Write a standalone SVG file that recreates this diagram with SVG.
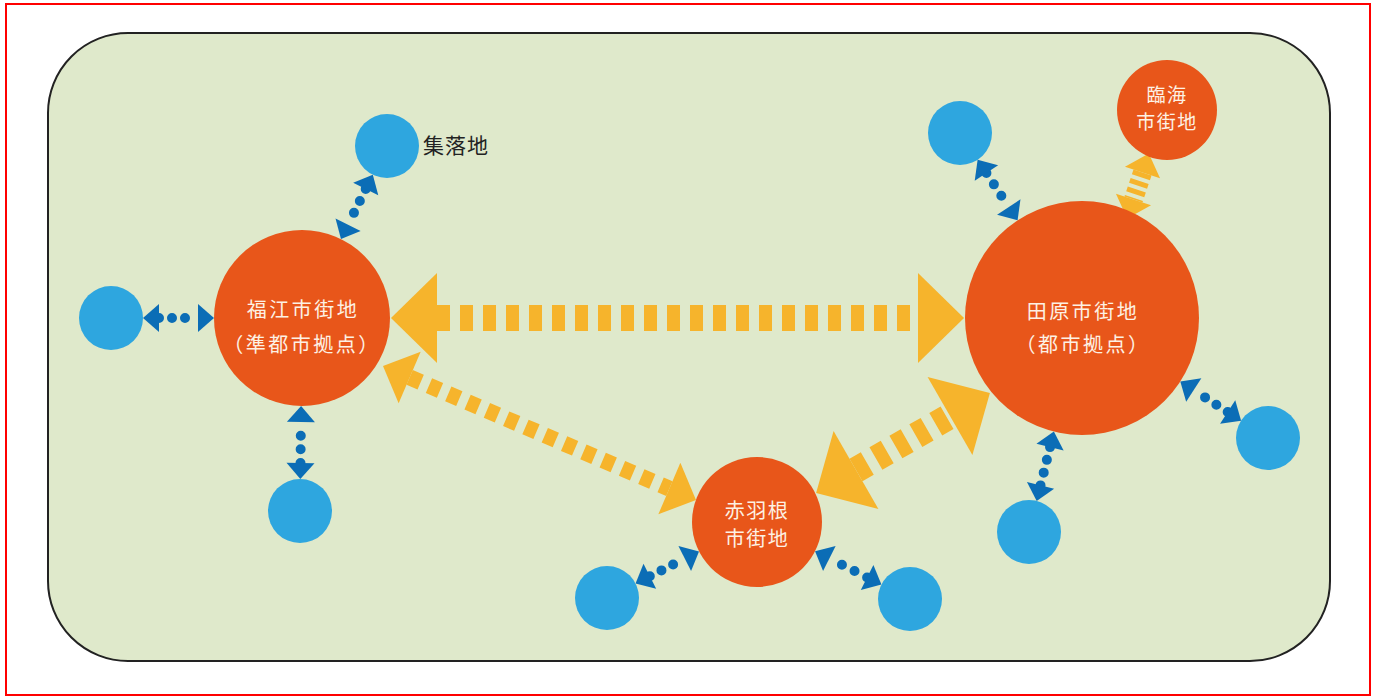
<svg xmlns="http://www.w3.org/2000/svg" width="1373" height="698" viewBox="0 0 1373 698">
<style>
.hub{fill:#e8561a}
.vil{fill:#2ea6df}
.lbl{font-family:"Noto Sans CJK JP","Noto Sans",sans-serif;font-size:20px;fill:#fdf1e4;text-anchor:middle;letter-spacing:2.5px}
.lbl2{font-family:"Noto Sans CJK JP","Noto Sans",sans-serif;font-size:19px;fill:#fdf1e4;text-anchor:middle;letter-spacing:1.5px}
.dark{font-family:"Noto Sans CJK JP","Noto Sans",sans-serif;font-size:21px;fill:#222;letter-spacing:1px}
.bl{fill:none;stroke:#0b6db6;stroke-width:10;stroke-linecap:round;stroke-dasharray:0 1;marker-start:url(#mb);marker-end:url(#mb)}
.yL{fill:none;stroke:#f6b42c;stroke-width:26;stroke-dasharray:13 10;marker-start:url(#myL);marker-end:url(#myL)}
.yM{fill:none;stroke:#f6b42c;stroke-width:16;stroke-dasharray:12 9;marker-start:url(#myM);marker-end:url(#myM)}
.yS{fill:none;stroke:#f6b42c;stroke-width:19;stroke-dasharray:5 4;marker-start:url(#myS);marker-end:url(#myS)}
</style>
<defs>
<marker id="mb" markerUnits="userSpaceOnUse" markerWidth="40" markerHeight="40" refX="0" refY="0" viewBox="-20 -20 40 40" orient="auto-start-reverse" overflow="visible"><path d="M0,-14 L16,0 L0,14 Z" fill="#0b6db6"/></marker>
<marker id="myL" markerUnits="userSpaceOnUse" markerWidth="120" markerHeight="120" refX="0" refY="0" viewBox="-60 -60 120 120" orient="auto-start-reverse" overflow="visible"><path d="M0,-45 L46,0 L0,45 Z" fill="#f6b42c"/></marker>
<marker id="myM" markerUnits="userSpaceOnUse" markerWidth="80" markerHeight="80" refX="0" refY="0" viewBox="-40 -40 80 80" orient="auto-start-reverse" overflow="visible"><path d="M0,-28 L29,0 L0,28 Z" fill="#f6b42c"/></marker>
<marker id="myS" markerUnits="userSpaceOnUse" markerWidth="50" markerHeight="50" refX="0" refY="0" viewBox="-25 -25 50 50" orient="auto-start-reverse" overflow="visible"><path d="M0,-18.5 L20,0 L0,18.5 Z" fill="#f6b42c"/></marker>
</defs>
<rect x="0" y="0" width="1373" height="698" fill="#fff"/>
<rect x="6" y="4" width="1364" height="691" fill="#fff" stroke="#ff0000" stroke-width="2"/>
<rect id="area" x="48" y="33" width="1282" height="628" rx="80" ry="80" fill="#dfe9cb" stroke="#222" stroke-width="2"/>

<g id="connectors">
<path class="yL" d="M437,318 L918,318"/>
<path class="yM" d="M409.66,377.41 L669.34,488.59"/>
<path class="yL" d="M856,470 L950,416"/>
<path class="yS" d="M1142.5,172.5 L1133.5,199.5"/>
<path class="bl" pathLength="3" d="M159,318 L198,318"/>
<path class="bl" pathLength="3" d="M365.73,189.03 L348.07,224.76"/>
<path class="bl" pathLength="3" d="M300.50,463.00 L300.92,422.00"/>
<path class="bl" pathLength="3" d="M986.42,173.07 L1008.78,206.97"/>
<path class="bl" pathLength="3" d="M1227.67,411.98 L1193.76,390.10"/>
<path class="bl" pathLength="3" d="M1040.54,485.41 L1050.03,447.10"/>
<path class="bl" pathLength="3" d="M649.82,576.30 L684.74,558.61"/>
<path class="bl" pathLength="3" d="M867.12,577.42 L829.36,558.42"/>
</g>

<g id="fukue">
<circle class="hub" cx="302" cy="318" r="88"/>
<text class="lbl" x="303" y="317">福江市街地</text>
<text class="lbl" x="302" y="352">（準都市拠点）</text>
</g>
<g id="tahara">
<circle class="hub" cx="1082" cy="318" r="117"/>
<text class="lbl" x="1083" y="319">田原市街地</text>
<text class="lbl" x="1083" y="352">（都市拠点）</text>
</g>
<g id="rinkai">
<circle class="hub" cx="1167" cy="110" r="50"/>
<text class="lbl2" x="1167" y="102">臨海</text>
<text class="lbl2" x="1167" y="129">市街地</text>
</g>
<g id="akabane">
<circle class="hub" cx="757" cy="522" r="65"/>
<text class="lbl2" x="757" y="518" style="font-size:20px">赤羽根</text>
<text class="lbl2" x="757" y="546" style="font-size:20px">市街地</text>
</g>

<g id="village-n"><circle class="vil" cx="387" cy="146" r="32"/><text class="dark" x="423" y="153">集落地</text></g>
<g id="village-w"><circle class="vil" cx="111" cy="318" r="32"/></g>
<g id="village-s"><circle class="vil" cx="300" cy="511" r="32"/></g>
<g id="village-tnw"><circle class="vil" cx="960" cy="133" r="32"/></g>
<g id="village-te"><circle class="vil" cx="1268" cy="438" r="32"/></g>
<g id="village-ts"><circle class="vil" cx="1029" cy="532" r="32"/></g>
<g id="village-aw"><circle class="vil" cx="607" cy="598" r="32"/></g>
<g id="village-ae"><circle class="vil" cx="910" cy="599" r="32"/></g>
</svg>
